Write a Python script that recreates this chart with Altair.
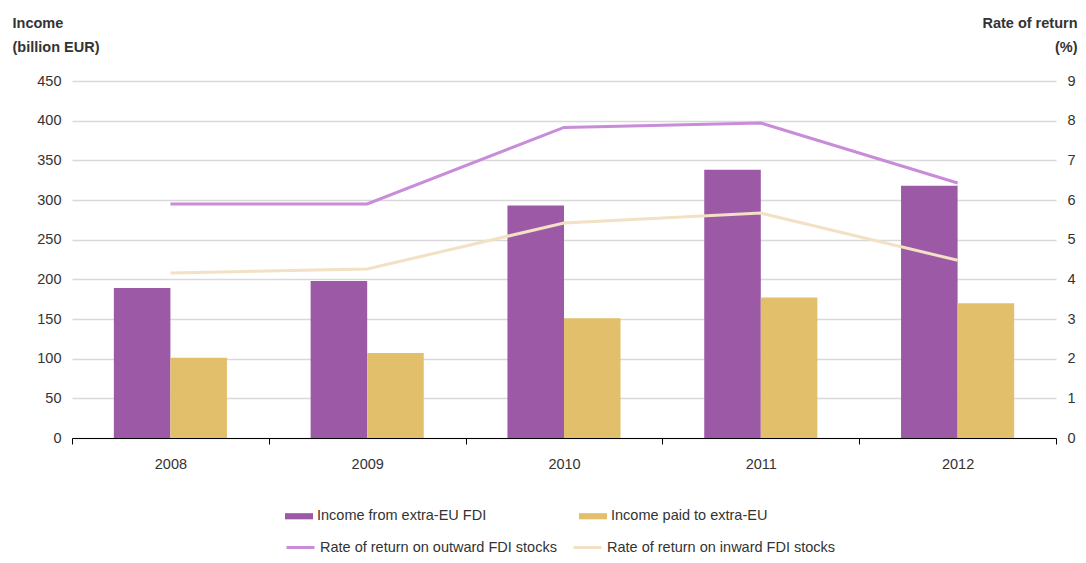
import altair as alt
import pandas as pd

years = ["2008", "2009", "2010", "2011", "2012"]
income_from = [189, 198, 293, 338, 318]
income_paid = [101, 107, 151, 177, 170]
rate_outward = [5.9, 5.9, 7.83, 7.94, 6.43]
rate_inward = [4.16, 4.26, 5.42, 5.67, 4.48]

bar_series = ["Income from extra-EU FDI", "Income paid to extra-EU"]
line_series = ["Rate of return on outward FDI stocks", "Rate of return on inward FDI stocks"]
bar_colors = ["#9B59A6", "#E2C06B"]
line_colors = ["#C88CD8", "#F2E1C4"]

left_ticks = [0, 50, 100, 150, 200, 250, 300, 350, 400, 450]
right_ticks = [0, 1, 2, 3, 4, 5, 6, 7, 8, 9]

rows_b = []
for i, y in enumerate(years):
    rows_b.append({"year": y, "series": bar_series[0], "value": income_from[i]})
    rows_b.append({"year": y, "series": bar_series[1], "value": income_paid[i]})
df_bars = pd.DataFrame(rows_b)

rows_l = []
for i, y in enumerate(years):
    rows_l.append({"year": y, "series": line_series[0], "value": rate_outward[i]})
    rows_l.append({"year": y, "series": line_series[1], "value": rate_inward[i]})
df_lines = pd.DataFrame(rows_l)

FONT = "Liberation Sans, Arial, sans-serif"
TXT = "#333333"
FS = 14.5

x_enc = alt.X(
    "year:N", sort=years,
    scale=alt.Scale(paddingInner=0, paddingOuter=0),
    axis=alt.Axis(title=None, labelAngle=0, domainColor="#000000", domainWidth=1,
                  tickColor="#000000", tickSize=6, tickBand="extent", labelPadding=13,
                  labelFontSize=FS, labelColor=TXT, grid=False),
)

bars = alt.Chart(df_bars).mark_bar().encode(
    x=x_enc,
    xOffset=alt.XOffset("series:N", sort=bar_series,
                        scale=alt.Scale(paddingOuter=0.74, paddingInner=0)),
    y=alt.Y("value:Q", scale=alt.Scale(domain=[0, 450]),
            axis=alt.Axis(values=left_ticks, title=["Income", "(billion EUR)"],
                          titleAngle=0, titleAlign="left", titleBaseline="alphabetic",
                          titleX=-60, titleY=-54, titleFontSize=14.5, titleFontWeight="bold",
                          titleColor=TXT, titleLineHeight=24,
                          domain=False, ticks=False, labelPadding=11, labelFontSize=FS,
                          labelColor=TXT, grid=True, gridColor="#d9d9d9", gridWidth=1.5)),
    color=alt.Color("series:N", scale=alt.Scale(domain=bar_series, range=bar_colors),
                    legend=alt.Legend(title=None, orient="none", legendX=213, legendY=421,
                                      direction="horizontal", columns=2, columnPadding=92,
                                      symbolType="M-1,-0.22H1V0.22H-1Z", symbolSize=784,
                                      symbolStrokeWidth=0, labelFontSize=FS, labelColor=TXT,
                                      labelOffset=4, labelLimit=0, padding=0)),
)

lines = alt.Chart(df_lines).mark_line(strokeWidth=3).encode(
    x=x_enc,
    y=alt.Y("value:Q", scale=alt.Scale(domain=[0, 9]),
            axis=alt.Axis(orient="right", values=right_ticks, title=["Rate of return", "(%)"],
                          titleAngle=0, titleAlign="right", titleBaseline="alphabetic",
                          titleX=21, titleY=-54, titleFontSize=14.5, titleFontWeight="bold",
                          titleColor=TXT, titleLineHeight=24,
                          domain=False, ticks=False, labelPadding=11, labelFontSize=FS,
                          labelColor=TXT, grid=False)),
    stroke=alt.Stroke("series:N", scale=alt.Scale(domain=line_series, range=line_colors),
                      legend=alt.Legend(title=None, orient="none", legendX=213, legendY=451,
                                        direction="horizontal", columns=2, columnPadding=10,
                                        symbolType="stroke", symbolSize=784,
                                        symbolStrokeWidth=3, labelFontSize=FS, labelColor=TXT,
                                        labelOffset=4, labelLimit=0, padding=0)),
)

chart = alt.layer(bars, lines).resolve_scale(y="independent", color="independent").properties(
    width=984, height=357,
    autosize=alt.AutoSizeParams(type="none"),
    padding={"left": 64, "top": 73, "right": 22, "bottom": 117},
).configure(font=FONT).configure_view(stroke=None)

chart.save("out.html", embed_options={"renderer": "svg", "actions": False})
